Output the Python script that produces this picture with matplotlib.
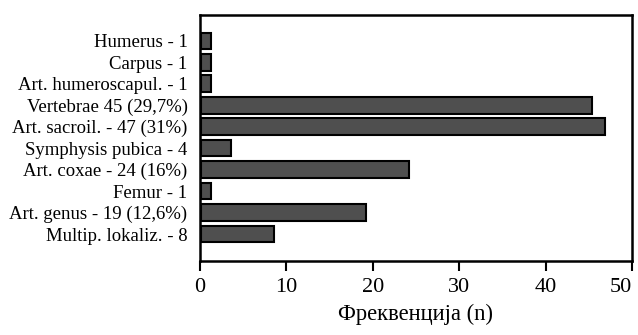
import matplotlib
matplotlib.use("Agg")
import matplotlib.pyplot as plt
import numpy as np

# categories, top to bottom
labels = ["Humerus - 1", "Carpus - 1", "Art. humeroscapul. - 1",
          "Vertebrae 45 (29,7%)", "Art. sacroil. - 47 (31%)",
          "Symphysis pubica - 4", "Art. coxae - 24 (16%)", "Femur - 1",
          "Art. genus - 19 (12,6%)", "Multip. lokaliz. - 8"]
# bar lengths as drawn
values = [1.1, 1.1, 1.1, 45.2, 46.8, 3.5, 24.1, 1.1, 19.1, 8.5]
xticks = [0, 10, 20, 30, 40, 50]

plt.rcParams['font.family'] = ['Liberation Serif', 'DejaVu Serif']

fig = plt.figure(figsize=(6.38, 3.35), dpi=100)
ax = fig.add_axes([200/638, 1 - 261/335, 432/638, 246/335])

n = len(labels)
y = np.arange(n)[::-1]
ax.barh(y, values, height=0.77, left=0.12, color="#4f4f4f",
        edgecolor="black", linewidth=1.5)

ax.set_xlim(0, 50)
ax.set_ylim(-1.25, n - 1 + 1.2)
ax.set_xticks(xticks)
ax.set_xticklabels([str(t) for t in xticks], fontsize=16)
ax.get_xticklabels()[-1].set_horizontalalignment('right')
ax.get_xticklabels()[-1].set_x(50.4)
ax.set_yticks(y)
ax.set_yticklabels(labels, fontsize=13.5)
ax.tick_params(axis='y', length=0, pad=9)
ax.tick_params(axis='x', direction='out', length=7, width=1.5, pad=5)
for s in ax.spines.values():
    s.set_linewidth(1.8)

ax.set_xlabel("Фреквенција (n)", fontsize=16.3, labelpad=5)

fig.savefig("out.png", dpi=100)
